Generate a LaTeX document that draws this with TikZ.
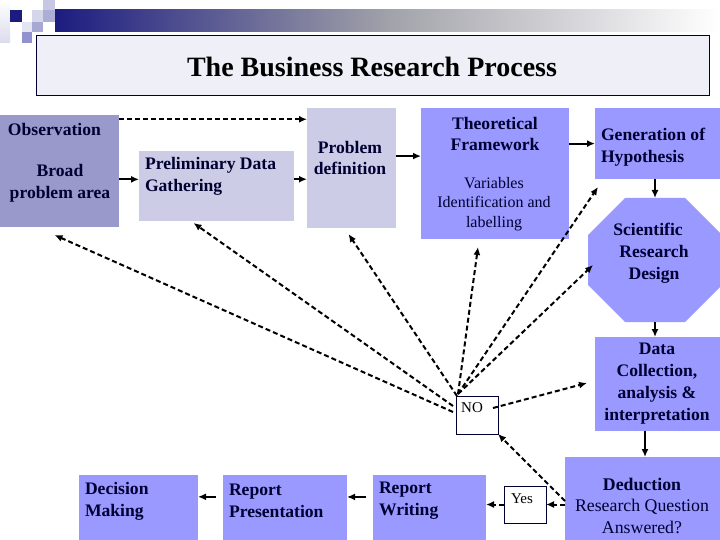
\documentclass[tikz,border=0pt]{standalone}
\usepackage{fontspec}
\setmainfont{Liberation Serif}
\usetikzlibrary{arrows.meta}
\definecolor{navy}{HTML}{000033}
\definecolor{medlav}{HTML}{9999CC}
\definecolor{palelav}{HTML}{CCCCE6}
\definecolor{peri}{HTML}{9999FF}
\definecolor{titlebg}{HTML}{EFEFF7}
\definecolor{barnavy}{HTML}{1C1C80}
\begin{document}
\begin{tikzpicture}[x=1pt,y=-1pt,
  boxs/.style={inner sep=0pt, outer sep=0pt, anchor=north west, draw=none},
  bt/.style={font=\fontsize{17.6}{21.8}\selectfont\bfseries, text=navy, inner sep=0pt, outer sep=0pt},
  rt/.style={font=\fontsize{16}{19.5}\selectfont, text=navy, inner sep=0pt, outer sep=0pt},
  arr/.style={-{Latex[length=8pt,width=7pt]}, line width=2pt, black},
  darr/.style={arr, dash pattern=on 5pt off 3pt},
]
\clip (0,0) rectangle (720,540);
\fill[white] (0,0) rectangle (720,540);
% header decoration
\shade[left color=barnavy, right color=white, middle color=black!10!blue!5!gray!70!white] (55,10) rectangle (720,32);
\shade[top color=white, bottom color=medlav!35] (0,0) rectangle (10,43);
\fill[barnavy] (10,10) rectangle (22,22);
\fill[medlav!55] (43,0) rectangle (55,10);
\fill[medlav!40] (32,10) rectangle (43,22);
\fill[medlav!80] (43,10) rectangle (55,22);
\fill[medlav!25] (22,22) rectangle (32,32);
\fill[medlav!85] (32,22) rectangle (43,32);
\fill[medlav!95!blue] (22,32) rectangle (32,43);
% title
\node[boxs, draw=navy, fill=titlebg, line width=1pt, minimum width=673pt, minimum height=60pt] (title) at (36,36) {};
\node[font=\fontsize{28}{32}\selectfont\bfseries, text=black, inner sep=0pt] (titlet) at (372,67) {The Business Research Process};
% boxes
\node[boxs, fill=medlav, minimum width=119pt, minimum height=112pt] (obs) at (0,115) {};
\node[boxs, fill=palelav, minimum width=155pt, minimum height=70pt] (pre) at (139,151) {};
\node[boxs, fill=palelav, minimum width=89pt, minimum height=120pt] (prob) at (307,108) {};
\node[boxs, fill=peri, minimum width=148pt, minimum height=131pt] (theo) at (421,108) {};
\node[boxs, fill=peri, minimum width=130pt, minimum height=71pt] (gen) at (595,108) {};
\fill[peri] (625,198) -- (685,198) -- (722,235) -- (722,285) -- (685,322) -- (625,322) -- (588,285) -- (588,235) -- cycle;
\node[inner sep=0pt, outer sep=0pt, minimum width=134pt, minimum height=124pt] (oct) at (655,260) {};
\node[boxs, fill=peri, minimum width=130pt, minimum height=94pt] (data) at (595,337) {};
\node[boxs, fill=peri, minimum width=160pt, minimum height=88pt] (ded) at (565,457) {};
\node[boxs, fill=peri, minimum width=113pt, minimum height=70pt] (wri) at (373,475) {};
\node[boxs, fill=peri, minimum width=124pt, minimum height=70pt] (pres) at (223,475) {};
\node[boxs, fill=peri, minimum width=119pt, minimum height=70pt] (dec) at (79,475) {};
\node[boxs, fill=white, draw=navy, line width=0.8pt, minimum width=42pt, minimum height=38pt] (no) at (456,396) {};
\node[boxs, fill=white, draw=navy, line width=0.8pt, minimum width=42pt, minimum height=37pt] (yes) at (504,486) {};
% texts
\node[bt, anchor=west] (obst1) at (8,129) {Observation};
\node[bt, align=center] (obst2) at (60,183) {Broad\\problem area};
\node[bt, align=left, anchor=west] (pret) at (145,176) {Preliminary Data\\Gathering};
\node[bt, align=center] (probt) at (350,158) {Problem\\definition};
\node[bt, align=center] (theot1) at (495,134) {Theoretical\\Framework};
\node[rt, align=center] (theot2) at (494,204) {Variables\\Identification and\\labelling};
\node[bt, align=left, anchor=west] (gent) at (601,147) {Generation of\\Hypothesis};
\node[bt, align=center] (octt) at (654,253) {Scientific\hspace*{12pt}\\Research\\Design};
\node[bt, align=center] (datat) at (657,383.5) {Data\\Collection,\\analysis \&\\interpretation};
\node[font=\fontsize{17.8}{21.5}\selectfont, text=navy, inner sep=0pt, align=center] (dedt) at (642,505.5) {\textbf{Deduction}\\Research Question\\Answered?};
\node[bt, align=left, anchor=west] (writ) at (379,501) {Report\\Writing};
\node[bt, align=left, anchor=west] (prest) at (229,501) {Report\\Presentation};
\node[bt, align=left, anchor=west] (dect) at (85,501) {Decision\\Making};
\node[font=\fontsize{15}{18}\selectfont, text=black, inner sep=0pt] (not) at (472,408) {NO};
\node[font=\fontsize{15}{18}\selectfont, text=black, inner sep=0pt] (yest) at (522,499) {Yes};
% solid / dashed flow
\draw[arr] (obs.-8) -- (obs.-8 -| pre.west);
\draw[arr] (pre.5) -- (pre.5 -| prob.west);
\draw[darr] (obs.41) -- (obs.41 -| prob.west);
\draw[arr] (prob.15) -- (prob.15 -| theo.west);
\draw[arr] (theo.22) -- (theo.22 -| gen.west);
\draw[arr] (oct.north |- gen.south) -- (oct.north);
\draw[arr] (oct.south) -- (oct.south |- data.north);
\draw[arr] (ded.north |- data.south) -- (ded.north);
\draw[darr] (yes.east -| ded.west) -- (yes.east);
\draw[darr] (yes.west) -- (yes.west -| wri.east);
\draw[arr, shorten <=7pt] (wri.167) -- (wri.167 -| pres.east);
\draw[arr, shorten <=7pt] (pres.168) -- (pres.168 -| dec.east);
\draw[darr] (ded.west) -- (no.south east);
% feedback from NO
\draw[darr] ([shift={(-5,-7)}]no.east) -- ([shift={(-8,-1)}]data.west);
\draw[darr] ([shift={(-3,-3)}]no.west) -- ([shift={(-5,8)}]obs.south);
\draw[darr] ([shift={(-3,-9)}]no.west) -- ([shift={(-23,2)}]pre.south);
\draw[darr] ([shift={(1,0)}]no.north west) -- ([shift={(-3,6)}]prob.south);
\draw[darr] ([shift={(2,-2)}]no.north west) -- ([shift={(-17,8)}]theo.south);
\draw[darr] ([shift={(2,-2)}]no.north west) -- ([shift={(3,8)}]gen.south west);
\draw[darr] ([shift={(2,-2)}]no.north west) -- ([shift={(5,5)}]oct.west);
\end{tikzpicture}
\end{document}
